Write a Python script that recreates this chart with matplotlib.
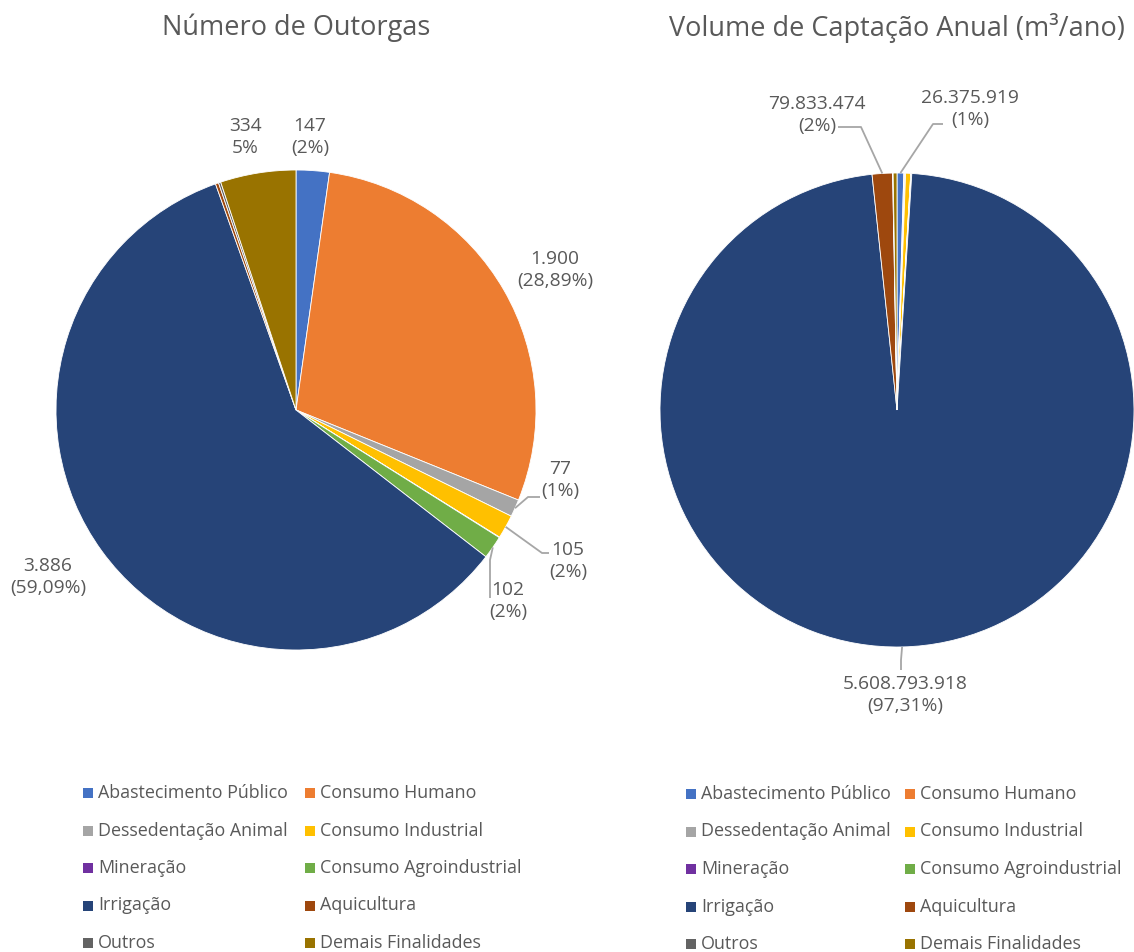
import numpy as np
import matplotlib
matplotlib.use("Agg")
import matplotlib.pyplot as plt
from matplotlib.patches import Rectangle

plt.rcParams['font.family'] = ['Open Sans', 'DejaVu Sans']

categories = ["Abastecimento Público", "Consumo Humano", "Dessedentação Animal",
              "Consumo Industrial", "Mineração", "Consumo Agroindustrial",
              "Irrigação", "Aquicultura", "Outros", "Demais Finalidades"]
colors = ["#4472C4", "#ED7D31", "#A5A5A5", "#FFC000", "#7030A0",
          "#70AD47", "#264478", "#9E480E", "#636363", "#997300"]

outorgas = [147, 1900, 77, 105, 2, 102, 3886, 14, 10, 334]
volume = [26375919, 3000000, 4000000, 20000000, 1000000, 3000000,
          5608793918, 79833474, 2000000, 15000000]

labels_outorgas = ["147\n(2%)", "1.900\n(28,89%)", "77\n(1%)", "105\n(2%)", None,
                   "102\n(2%)", "3.886\n(59,09%)", None, None, "334\n5%"]
labels_volume = ["26.375.919\n(1%)", None, None, None, None, None,
                 "5.608.793.918\n(97,31%)", "79.833.474\n(2%)", None, None]

W, H = 1134, 952
fig = plt.figure(figsize=(W / 100, H / 100), dpi=100)
ax = fig.add_axes([0, 0, 1, 1])
ax.set_xlim(0, W)
ax.set_ylim(0, H)
ax.axis('off')

TXT = "#595959"
LINE = "#A6A6A6"


def P(x, y):
    return x, H - y


# layout: label text centers (pixels) and leader lines (elbow, end) in pixels
left_layout = {
    0: dict(pos=(310, 137)),
    1: dict(pos=(555, 270)),
    2: dict(pos=(560, 480), elbow=(528, 497), end=(540, 497)),
    3: dict(pos=(568, 561), elbow=(542, 553), end=(549, 553)),
    5: dict(pos=(508, 601), elbow=(490, 560), end=(490, 598)),
    6: dict(pos=(48, 577)),
    9: dict(pos=(245, 137)),
}
right_layout = {
    0: dict(pos=(970, 109), elbow=(933, 124), end=(943, 124)),
    6: dict(pos=(905, 695), elbow=(901, 660), end=(901, 670)),
    7: dict(pos=(817, 115), elbow=(861, 127), end=(838, 127)),
}


def draw_pie(values, labels, layout, center_px, radius, title, title_px):
    cx, cy = P(*center_px)
    ax.pie(values, colors=colors, startangle=90, counterclock=False,
           center=(cx, cy), radius=radius, frame=True,
           wedgeprops=dict(edgecolor='white', linewidth=0.6))
    total = float(sum(values))
    cum = np.cumsum([0] + list(values[:-1])) / total
    fr = np.array(values) / total
    for i, lab in enumerate(labels):
        if lab is None:
            continue
        lay = layout[i]
        tx, ty = P(*lay['pos'])
        if 'elbow' in lay:
            ang = np.deg2rad(90 - 360 * (cum[i] + fr[i] / 2))
            ax0 = cx + radius * np.cos(ang)
            ay0 = cy + radius * np.sin(ang)
            ex, ey = P(*lay['elbow'])
            nx, ny = P(*lay['end'])
            ax.plot([ax0, ex, nx], [ay0, ey, ny], color=LINE, lw=1.3,
                    solid_capstyle='butt', zorder=5)
        ax.text(tx, ty, lab, ha='center', va='center', fontsize=13.8,
                color=TXT, linespacing=1.3, zorder=6)
    ax.text(*P(*title_px), title, ha='center', va='center', fontsize=19.5,
            color=TXT)


draw_pie(outorgas, labels_outorgas, left_layout, (296, 410), 240,
         "Número de Outorgas", (296, 28))
draw_pie(volume, labels_volume, right_layout, (897, 410), 237,
         "Volume de Captação Anual (m³/ano)", (897, 28))

ax.set_xlim(0, W)
ax.set_ylim(0, H)
ax.set_aspect('auto')
ax.axis('off')


def draw_legend(x_col1, x_col2, y0, dy):
    for i, (lab, col) in enumerate(zip(categories, colors)):
        r, c = divmod(i, 2)
        x = x_col1 if c == 0 else x_col2
        y = y0 + r * dy
        mx, my = P(x, y)
        ax.add_patch(Rectangle((mx, my - 5), 10, 10, facecolor=col,
                               edgecolor='none'))
        ax.text(mx + 15, my, lab, ha='left', va='center', fontsize=12.9,
                color=TXT)


draw_legend(83, 305, 793, 37.5)
draw_legend(686, 905, 794, 37.5)

fig.savefig("out.png", dpi=100, facecolor='white')
